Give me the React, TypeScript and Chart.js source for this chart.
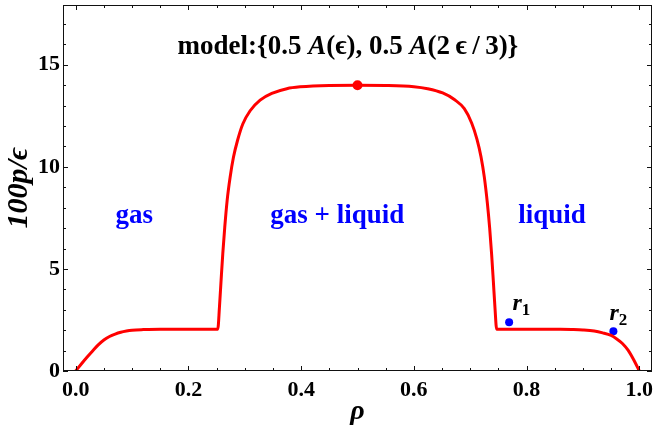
import { useEffect, useRef } from "react";
import { Chart, registerables } from "chart.js";

Chart.register(...registerables);

// ---- data ----
const curveX = [
  0.0, 0.01, 0.02, 0.03, 0.04, 0.05, 0.06, 0.07, 0.08, 0.09, 0.1, 0.12, 0.15, 0.2, 0.2521,
  0.2551, 0.258, 0.261, 0.2645, 0.2687, 0.274, 0.2799, 0.287, 0.2965, 0.3095, 0.3272, 0.3479,
  0.3746, 0.3982, 0.45, 0.5, 0.55, 0.6, 0.6244, 0.6511, 0.6718, 0.6895, 0.7025, 0.712, 0.7191,
  0.725, 0.7303, 0.7345, 0.738, 0.741, 0.7439, 0.7469,
  0.78, 0.82, 0.86, 0.88, 0.9, 0.92, 0.935, 0.95, 0.96, 0.97, 0.98, 0.99, 1.0,
];
const curveY = [
  0.0, 0.34, 0.67, 0.98, 1.28, 1.52, 1.69, 1.81, 1.9, 1.96, 2.0, 2.03, 2.05, 2.05, 2.05,
  3.14, 4.45, 5.75, 7.05, 8.35, 9.49, 10.47, 11.28, 12.1, 12.75, 13.27, 13.6,
  13.83, 13.92, 13.99, 14.0, 13.99, 13.93, 13.83, 13.62, 13.3, 12.85, 12.15, 11.35, 10.5,
  9.5, 8.25, 7.0, 5.7, 4.4, 3.1, 2.05,
  2.05, 2.05, 2.04, 2.03, 2.01, 1.96, 1.87, 1.74, 1.57, 1.35, 1.02, 0.55, 0.0,
];
const peakX = [0.5];
const peakY = [14.0];
const markerX = [0.769, 0.954];
const markerY = [2.39, 1.95];
const markerNames = ["r", "r"];
const markerSubs = ["1", "2"];
const markerLabelX = [0.775, 0.947];
const markerLabelY = [2.98, 2.5];
const xTicks = [0, 0.2, 0.4, 0.6, 0.8, 1.0];
const yTicks = [0, 5, 10, 15];
const xMinorStep = 0.05;
const yMinorStep = 1;
const regionLabels = ["gas", "gas + liquid", "liquid"];
const regionX = [0.104, 0.464, 0.845];
const regionY = [7.23, 7.23, 7.23];
const titleX = 0.483;
const titleY = 15.53;

const X_MIN = -0.0225;
const X_MAX = 1.0225;
const Y_MIN = 0;
const Y_MAX = 17.93;

const SERIF = '"Liberation Serif", "DejaVu Serif", serif';

type Seg = { text: string; italic?: boolean; size: number; dy?: number };

function drawRich(ctx: CanvasRenderingContext2D, segs: Seg[], x: number, y: number, align: "center" | "left", color: string) {
  ctx.save();
  ctx.fillStyle = color;
  ctx.textBaseline = "alphabetic";
  ctx.textAlign = "left";
  const widths = segs.map((s) => {
    ctx.font = `${s.italic ? "italic " : ""}bold ${s.size}px ${SERIF}`;
    return ctx.measureText(s.text).width;
  });
  const total = widths.reduce((a, b) => a + b, 0);
  let cx = align === "center" ? x - total / 2 : x;
  segs.forEach((s, i) => {
    ctx.font = `${s.italic ? "italic " : ""}bold ${s.size}px ${SERIF}`;
    ctx.fillText(s.text, cx, y + (s.dy || 0));
    cx += widths[i];
  });
  ctx.restore();
}

const framePlugin = {
  id: "frameTicks",
  afterDatasetsDraw(chart: any) {
    const { ctx, chartArea } = chart;
    const xs = chart.scales.x;
    const ys = chart.scales.y;
    const { left, right, top, bottom } = chartArea;
    ctx.save();
    ctx.strokeStyle = "#111";
    ctx.lineWidth = 1;
    ctx.strokeRect(Math.round(left) + 0.5, Math.round(top) + 0.5, Math.round(right - left) - 1, Math.round(bottom - top) - 1);
    ctx.beginPath();
    for (let i = 0; i * xMinorStep <= 1.0001; i++) {
      const v = i * xMinorStep;
      const major = i % 4 === 0;
      const len = major ? 5 : 3;
      const px = Math.round(xs.getPixelForValue(v)) + 0.5;
      ctx.moveTo(px, bottom);
      ctx.lineTo(px, bottom - len);
      ctx.moveTo(px, top);
      ctx.lineTo(px, top + len);
    }
    for (let i = 0; i * yMinorStep <= Y_MAX; i++) {
      const v = i * yMinorStep;
      const major = i % 5 === 0;
      const len = major ? 5 : 3;
      const py = Math.round(ys.getPixelForValue(v)) + 0.5;
      ctx.moveTo(left, py);
      ctx.lineTo(left + len, py);
      ctx.moveTo(right, py);
      ctx.lineTo(right - len, py);
    }
    ctx.stroke();
    ctx.restore();
  },
  afterDraw(chart: any) {
    const { ctx } = chart;
    const xs = chart.scales.x;
    const ys = chart.scales.y;
    drawRich(
      ctx,
      [
        { text: "model:{0.5 ", size: 27 },
        { text: "A", italic: true, size: 27 },
        { text: "(\u03F5), 0.5 ", size: 27 },
        { text: "A", italic: true, size: 27 },
        { text: "(2\u2009\u03F5\u2009/\u20093)}", size: 27 },
      ],
      xs.getPixelForValue(titleX),
      ys.getPixelForValue(titleY),
      "center",
      "#000"
    );
    regionLabels.forEach((t, i) => {
      drawRich(ctx, [{ text: t, size: 27 }], xs.getPixelForValue(regionX[i]), ys.getPixelForValue(regionY[i]), "center", "#0000ff");
    });
    markerNames.forEach((t, i) => {
      drawRich(
        ctx,
        [
          { text: t, italic: true, size: 24 },
          { text: markerSubs[i], size: 17, dy: 5 },
        ],
        xs.getPixelForValue(markerLabelX[i]),
        ys.getPixelForValue(markerLabelY[i]),
        "left",
        "#000"
      );
    });
  },
};

export default function App() {
  const ref = useRef<HTMLCanvasElement | null>(null);
  useEffect(() => {
    if (!ref.current) return;
    const chart = new Chart(ref.current, {
      type: "scatter",
      data: {
        datasets: [
          {
            data: curveX.map((x, i) => ({ x, y: curveY[i] })),
            showLine: true,
            borderColor: "#ff0000",
            borderWidth: 3,
            pointRadius: 0,
            cubicInterpolationMode: "monotone",
            fill: false,
          } as any,
          {
            data: peakX.map((x, i) => ({ x, y: peakY[i] })),
            pointRadius: 5,
            backgroundColor: "#ff0000",
            borderWidth: 0,
          },
          {
            data: markerX.map((x, i) => ({ x, y: markerY[i] })),
            pointRadius: 4,
            backgroundColor: "#0000ff",
            borderWidth: 0,
          },
        ],
      },
      options: {
        responsive: false,
        animation: false,
        layout: { padding: { left: 0, top: 4, right: 5, bottom: 0 } },
        plugins: { legend: { display: false }, tooltip: { enabled: false } },
        scales: {
          x: {
            type: "linear",
            min: X_MIN,
            max: X_MAX,
            grid: { display: false, drawTicks: false },
            border: { display: false },
            afterBuildTicks: (s: any) => {
              s.ticks = xTicks.map((v) => ({ value: v }));
            },
            afterFit: (s: any) => {
              s.height = 67;
              s.paddingLeft = 0;
              s.paddingRight = 0;
            },
            ticks: {
              padding: 6,
              color: "#000",
              maxRotation: 0,
              autoSkip: false,
              font: { family: SERIF, size: 22, weight: "bold" },
              callback: (v: any) => Number(v).toFixed(1),
            },
            title: {
              display: true,
              text: "\u03C1",
              color: "#000",
              padding: { top: 0, bottom: 9 },
              font: { family: SERIF, size: 28, weight: "bold", style: "italic" },
            },
          },
          y: {
            type: "linear",
            min: Y_MIN,
            max: Y_MAX,
            grid: { display: false, drawTicks: false },
            border: { display: false },
            afterBuildTicks: (s: any) => {
              s.ticks = yTicks.map((v) => ({ value: v }));
            },
            afterFit: (s: any) => {
              s.width = 63;
              s.paddingTop = 0;
              s.paddingBottom = 0;
            },
            ticks: {
              padding: 3,
              color: "#000",
              autoSkip: false,
              font: { family: SERIF, size: 22, weight: "bold" },
              callback: (v: any) => String(v),
            },
            title: {
              display: true,
              text: "100p/\u03F5",
              color: "#000",
              padding: { top: 1, bottom: 0 },
              font: { family: SERIF, size: 30, weight: "bold", style: "italic" },
            },
          },
        },
      } as any,
      plugins: [framePlugin],
    });
    return () => chart.destroy();
  }, []);
  return (
    <div style={{ position: "absolute", left: 0, top: 0, width: 657, height: 438, background: "#fff" }}>
      <canvas ref={ref} width={657} height={438} style={{ display: "block" }} />
    </div>
  );
}
